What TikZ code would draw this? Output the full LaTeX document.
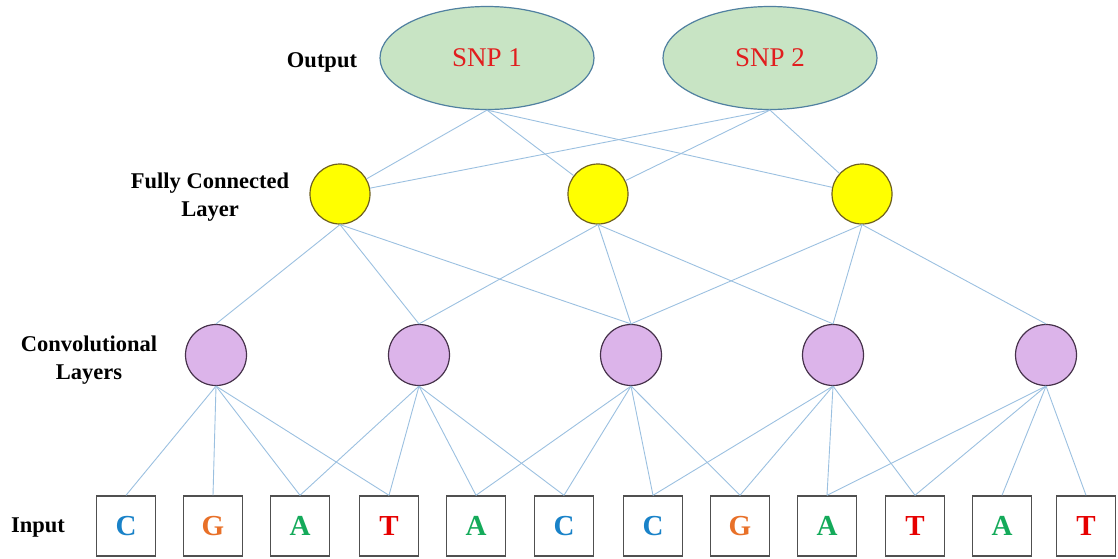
\documentclass[tikz,border=0pt]{standalone}
\usepackage{fontspec}
\setmainfont{Liberation Serif}
\usetikzlibrary{shapes.geometric}
\definecolor{edgeblue}{RGB}{155,192,224}
\definecolor{snpfill}{RGB}{200,228,196}
\definecolor{snpdraw}{RGB}{80,128,160}
\definecolor{fcfill}{RGB}{255,255,0}
\definecolor{fcdraw}{RGB}{110,96,30}
\definecolor{convfill}{RGB}{220,180,234}
\definecolor{convdraw}{RGB}{70,50,75}
\definecolor{boxdraw}{RGB}{80,80,80}
\definecolor{baseC}{RGB}{25,130,200}
\definecolor{baseG}{RGB}{232,112,40}
\definecolor{baseA}{RGB}{20,170,90}
\definecolor{baseT}{RGB}{230,0,0}
\definecolor{snptext}{RGB}{225,30,30}
\tikzset{
  snpnode/.style={ellipse, draw=snpdraw, fill=snpfill, line width=1.2pt,
    minimum width=214pt, minimum height=103pt, inner sep=0pt,
    font=\fontsize{27}{30}\selectfont, text=snptext},
  fcnode/.style={circle, draw=fcdraw, fill=fcfill, line width=1.2pt,
    minimum size=60pt, inner sep=0pt},
  convnode/.style={circle, draw=convdraw, fill=convfill, line width=1.2pt,
    minimum size=61pt, inner sep=0pt},
  basebox/.style={draw=boxdraw, line width=1.4pt, minimum width=59pt,
    minimum height=60pt, inner sep=0pt, font=\bfseries\fontsize{29}{30}\selectfont},
  layerlabel/.style={font=\bfseries\fontsize{22.5}{28.5}\selectfont, align=center},
  link/.style={draw=edgeblue, line width=0.9pt}
}
\begin{document}
\begin{tikzpicture}[x=1pt,y=-1pt]
\useasboundingbox (0,0) rectangle (1118,558);
% layer labels
\node[layerlabel] (lout) at (322,62) {Output};
\node[layerlabel] (lfc) at (210,197) {Fully Connected\\Layer};
\node[layerlabel] (lconv) at (89,360) {Convolutional\\Layers};
\node[layerlabel] (lin) at (38,528) {Input};
% output
\node[snpnode] (snp1) at (487,58) {SNP 1};
\node[snpnode] (snp2) at (770,58) {SNP 2};
% fully connected
\node[fcnode] (fc1) at (340,194) {};
\node[fcnode] (fc2) at (598,194) {};
\node[fcnode] (fc3) at (862,194) {};
% convolutional
\node[convnode] (cv1) at (216,355) {};
\node[convnode] (cv2) at (419,355) {};
\node[convnode] (cv3) at (631,355) {};
\node[convnode] (cv4) at (833,355) {};
\node[convnode] (cv5) at (1046,355) {};
% inputs
\node[basebox, text=baseC] (b1) at (126,526) {C};
\node[basebox, text=baseG] (b2) at (213,526) {G};
\node[basebox, text=baseA] (b3) at (300,526) {A};
\node[basebox, text=baseT] (b4) at (389,526) {T};
\node[basebox, text=baseA] (b5) at (476,526) {A};
\node[basebox, text=baseC] (b6) at (564,526) {C};
\node[basebox, text=baseC] (b7) at (653,526) {C};
\node[basebox, text=baseG] (b8) at (740,526) {G};
\node[basebox, text=baseA] (b9) at (827,526) {A};
\node[basebox, text=baseT] (b10) at (915,526) {T};
\node[basebox, text=baseA] (b11) at (1002,526) {A};
\node[basebox, text=baseT] (b12) at (1086,526) {T};
% output <- fc
\foreach \s in {snp1,snp2}{
  \foreach \f in {fc1,fc2,fc3}{
    \draw[link] (\s.south) -- (\f);
  }
}
% fc -> conv
\foreach \f/\a/\b/\c in {fc1/cv1/cv2/cv3, fc2/cv2/cv3/cv4, fc3/cv3/cv4/cv5}{
  \draw[link] (\f.south) -- (\a.north);
  \draw[link] (\f.south) -- (\b.north);
  \draw[link] (\f.south) -- (\c.north);
}
% conv -> inputs
\foreach \c/\p/\q/\r/\t in {cv1/b1/b2/b3/b4, cv2/b3/b4/b5/b6, cv3/b5/b6/b7/b8, cv4/b7/b8/b9/b10, cv5/b9/b10/b11/b12}{
  \draw[link] (\c.south) -- (\p.north);
  \draw[link] (\c.south) -- (\q.north);
  \draw[link] (\c.south) -- (\r.north);
  \draw[link] (\c.south) -- (\t.north);
}
\end{tikzpicture}
\end{document}
